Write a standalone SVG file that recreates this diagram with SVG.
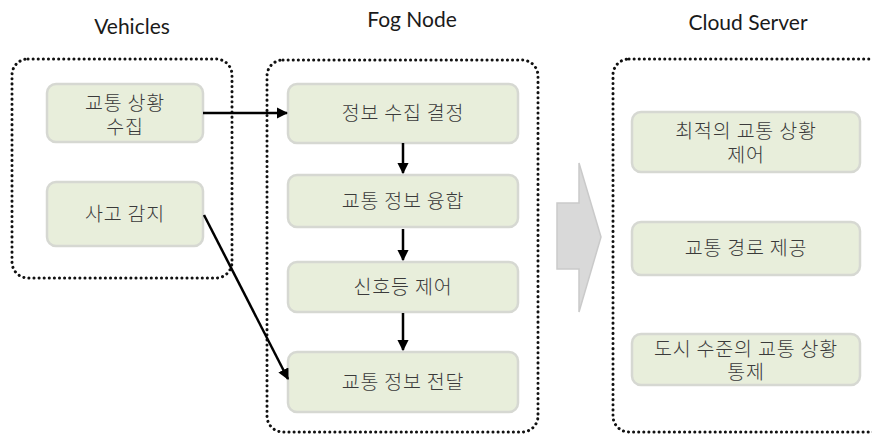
<svg xmlns="http://www.w3.org/2000/svg" width="872" height="435" viewBox="0 0 872 435">
<style>
.title{font-family:Lato,"Open Sans","Liberation Sans",sans-serif;font-size:21px;fill:#1a1a1a;text-anchor:middle}
.cont{fill:none;stroke:#111;stroke-width:3;stroke-dasharray:0.1 5;stroke-linecap:round}
.box{fill:#e8eedb;stroke:#d6d8d2;stroke-width:2.5}
.lbl{font-family:"Noto Sans CJK KR","Noto Sans",sans-serif;font-size:19.5px;font-weight:300;letter-spacing:0.8px;fill:#3a3a3a;text-anchor:middle}
.conn{stroke:#000;stroke-width:2.5;fill:none}
</style>
<defs>
<marker id="ah" viewBox="0 0 10 10" refX="9" refY="5" markerWidth="4.5" markerHeight="4.5" orient="auto" markerUnits="strokeWidth">
<path d="M0,0 L10,5 L0,10 z" fill="#000"/>
</marker>
</defs>
<rect width="872" height="435" fill="#fff"/>
<text class="title" x="132" y="34">Vehicles</text>
<text class="title" x="412" y="27">Fog Node</text>
<text class="title" x="748" y="30">Cloud Server</text>

<g id="vehicles">
<rect class="cont" x="12" y="59" width="220" height="219" rx="16"/>
</g>
<g id="fog">
<rect class="cont" x="267" y="60" width="271" height="372" rx="16"/>
</g>
<g id="cloud">
<rect class="cont" x="613" y="59" width="280" height="373" rx="16"/>
</g>

<g id="v1"><rect class="box" x="47" y="84" width="156" height="58" rx="9"/>
<text class="lbl" x="125" y="110">교통 상황</text><text class="lbl" x="125" y="134">수집</text></g>
<g id="v2"><rect class="box" x="47" y="182" width="156" height="64" rx="9"/>
<text class="lbl" x="125" y="221">사고 감지</text></g>

<g id="f1"><rect class="box" x="288" y="84" width="230" height="59" rx="9"/>
<text class="lbl" x="403" y="120">정보 수집 결정</text></g>
<g id="f2"><rect class="box" x="288" y="175" width="230" height="52" rx="9"/>
<text class="lbl" x="403" y="208">교통 정보 융합</text></g>
<g id="f3"><rect class="box" x="288" y="262" width="230" height="50" rx="9"/>
<text class="lbl" x="403" y="294">신호등 제어</text></g>
<g id="f4"><rect class="box" x="288" y="352" width="230" height="60" rx="9"/>
<text class="lbl" x="403" y="389">교통 정보 전달</text></g>

<g id="c1"><rect class="box" x="632" y="112" width="228" height="60" rx="9"/>
<text class="lbl" x="746" y="138">최적의 교통 상황</text><text class="lbl" x="746" y="162">제어</text></g>
<g id="c2"><rect class="box" x="632" y="222" width="228" height="53" rx="9"/>
<text class="lbl" x="746" y="255">교통 경로 제공</text></g>
<g id="c3"><rect class="box" x="632" y="334" width="228" height="51" rx="9"/>
<text class="lbl" x="746" y="356">도시 수준의 교통 상황</text><text class="lbl" x="746" y="379">통제</text></g>

<g id="bigarrow">
<path d="M557,203 L579,203 L579,163 L601,237 L579,312 L579,269 L557,269 Z" fill="#d9d9d9" stroke="#cacaca" stroke-width="1.5"/>
</g>

<g id="connectors">
<line class="conn" x1="203" y1="113" x2="287" y2="113" marker-end="url(#ah)"/>
<line class="conn" x1="204" y1="215" x2="288" y2="379" marker-end="url(#ah)"/>
<line class="conn" x1="403" y1="143" x2="403" y2="173" marker-end="url(#ah)"/>
<line class="conn" x1="403" y1="229" x2="403" y2="260" marker-end="url(#ah)"/>
<line class="conn" x1="403" y1="313" x2="403" y2="350" marker-end="url(#ah)"/>
</g>
</svg>
